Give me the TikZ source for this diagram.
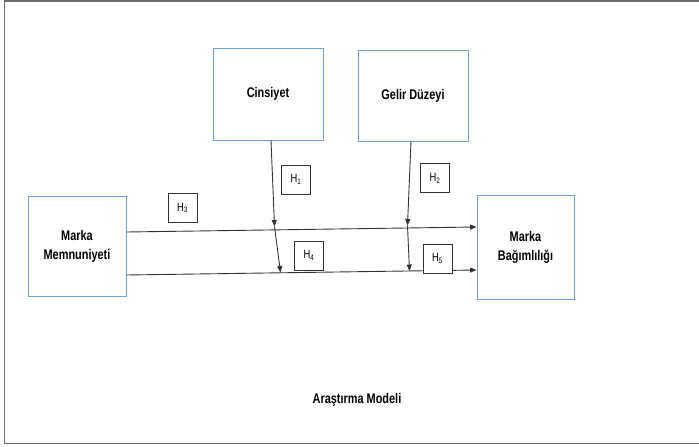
\documentclass[tikz,border=0pt]{standalone}
\usepackage{fontspec}
\setmainfont[FakeStretch=0.78]{Liberation Sans}
\usepackage{tikz}
\usetikzlibrary{arrows.meta}
\definecolor{boxblue}{RGB}{105,165,220}
\definecolor{linegray}{RGB}{50,50,50}
\definecolor{framegray}{RGB}{110,110,110}

\begin{document}
\begin{tikzpicture}[x=1pt, y=-1pt,
  arrow/.style={-{Triangle[length=6.5pt,width=5pt]}, draw=linegray, line width=0.9pt},
  var/.style={draw=boxblue, line width=0.9pt, fill=white, align=center,
              font=\fontsize{14}{19}\selectfont\bfseries},
  hyp/.style={draw=linegray, fill=white, line width=0.9pt, inner sep=0pt,
              minimum width=29pt, minimum height=29pt,
              font=\fontsize{12}{14}\selectfont},
]
  \useasboundingbox (0,0) rectangle (699,447);
  \draw[framegray, line width=1.6pt] (4.5,1) rectangle (703,443.5);   % outer frame

  % ---- Variables ----
  \node[var, minimum width=98pt, minimum height=100pt] (mm) at (77,246) {Marka\\Memnuniyeti};
  \node[var, minimum width=110pt, minimum height=92pt] (cs) at (268,94) {Cinsiyet};
  \node[var, minimum width=110pt, minimum height=91pt] (gd) at (413,95.5) {Gelir Düzeyi};
  \node[var, minimum width=97pt, minimum height=104pt] (mb) at (525.5,247) {Marka\\Bağımlılığı};

  % ---- Points on the main paths ----
  \coordinate (c1) at (274.5,226.5);
  \coordinate (c2) at (280.5,272.5);
  \coordinate (g1) at (407.5,225.5);
  \coordinate (g2) at (409.5,271);

  % ---- Arrows (main paths) ----
  \draw[arrow] ([yshift=14pt]mm.east) -- ([yshift=20pt]mb.west);
  \draw[arrow] ([yshift=-29pt]mm.east) -- ([yshift=-23pt]mb.west);

  % ---- Arrows (moderators) ----
  \draw[arrow] ([xshift=3pt]cs.south) -- (c1);
  \draw[arrow] (c1) -- (c2);
  \draw[arrow] ([xshift=-2pt]gd.south) -- (g1);
  \draw[arrow] (g1) -- (g2);

  % ---- Hypotheses ----
  \node[hyp] (h1) at (296,179.5) {H\textsubscript{1}};
  \node[hyp] (h2) at (435,178) {H\textsubscript{2}};
  \node[hyp] (h3) at (182.5,208) {H\textsubscript{3}};
  \node[hyp] (h4) at (309,255.5) {H\textsubscript{4}};
  \node[hyp] (h5) at (437.5,258.5) {H\textsubscript{5}};

  \node[font=\fontsize{14}{16}\selectfont\bfseries] (title) at (357,400) {Araştırma Modeli};
\end{tikzpicture}
\end{document}
